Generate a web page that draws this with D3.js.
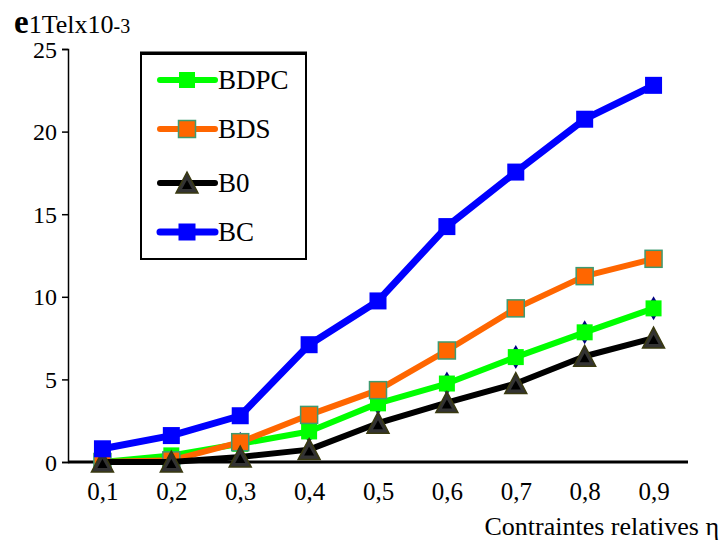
<!DOCTYPE html>
<html>
<head>
<meta charset="utf-8">
<script src="https://cdn.jsdelivr.net/npm/d3@7"></script>
<style>
  html, body { margin: 0; padding: 0; background: #fff; }
  svg { display: block; }
  text { font-family: "Liberation Serif", "Times New Roman", serif; fill: #000; }
</style>
</head>
<body>
<svg id="chart" width="728" height="541"></svg>
<script>
// Relative stress levels (x categories)
const categories = ["0,1", "0,2", "0,3", "0,4", "0,5", "0,6", "0,7", "0,8", "0,9"];
const yTicks = [0, 5, 10, 15, 20, 25];

// Strain e1Tel (x10^-3) per beam type
const seriesNames = ["BDPC", "BDS", "B0", "BC"];
const valuesBDPC = [0.0, 0.4, 1.1, 1.85, 3.55, 4.75, 6.35, 7.85, 9.3];
const valuesBDS  = [0.0, 0.1, 1.2, 2.85, 4.35, 6.75, 9.3, 11.25, 12.3];
const valuesB0   = [0.0, 0.0, 0.3, 0.75, 2.35, 3.6, 4.75, 6.4, 7.5];
const valuesBC   = [0.8, 1.6, 2.8, 7.1, 9.75, 14.25, 17.55, 20.75, 22.8];

const svg = d3.select("#chart");
const plotLeft = 68, plotRight = 688, plotTop = 49, plotBottom = 462;

const x = d3.scalePoint().domain(categories).range([plotLeft, plotRight]).padding(0.5);
const y = d3.scaleLinear().domain([0, 25]).range([plotBottom, plotTop]);

// Y axis
const yAxis = svg.append("g").attr("transform", `translate(${plotLeft},0)`)
  .call(d3.axisLeft(y).tickValues(yTicks).tickSize(6).tickPadding(5));
yAxis.attr("font-family", null);
yAxis.select(".domain").attr("stroke", "#000").attr("stroke-width", 1.5);
yAxis.selectAll(".tick line").attr("stroke", "#000").attr("stroke-width", 1.5);
yAxis.selectAll(".tick text")
  .attr("font-size", 24).attr("fill", "#000")
  .attr("dy", "0.34em");

// X axis (no tick marks, thick base line)
const xAxis = svg.append("g").attr("transform", `translate(0,${plotBottom})`)
  .call(d3.axisBottom(x).tickSize(0).tickPadding(20));
xAxis.attr("font-family", null);
xAxis.select(".domain").remove();
xAxis.selectAll(".tick text")
  .attr("font-size", 25).attr("fill", "#000")
  .attr("dy", "0.71em");
svg.append("line")
  .attr("x1", plotLeft).attr("x2", plotRight).attr("y1", plotBottom).attr("y2", plotBottom)
  .attr("stroke", "#000").attr("stroke-width", 3);

// Y axis title: e1Tel x10^-3
const yTitle = svg.append("text").attr("x", 14).attr("y", 33);
yTitle.append("tspan").attr("font-size", 33).attr("font-weight", "bold").text("e");
yTitle.append("tspan").attr("font-size", 26).text("1Telx10");
yTitle.append("tspan").attr("font-size", 20).text("-3");

// X axis title
svg.append("text").attr("x", 719).attr("y", 535).attr("text-anchor", "end")
  .attr("font-size", 26).text("Contraintes relatives η");

const line = d3.line().x((d, i) => x(categories[i])).y(d => y(d));

const styles = {
  BDPC: { color: "#00ff00", width: 6, values: valuesBDPC },
  BDS:  { color: "#ff6600", width: 6, values: valuesBDS },
  B0:   { color: "#000000", width: 6, values: valuesB0 },
  BC:   { color: "#0000ff", width: 7, values: valuesBC }
};

function drawMarker(g, name, cx, cy) {
  if (name === "B0") {
    g.append("path")
      .attr("d", `M${cx},${cy - 11} L${cx + 11},${cy + 10} L${cx - 11},${cy + 10} Z`)
      .attr("fill", "#333333").attr("stroke", "#3a3a10").attr("stroke-width", 1.5);
    g.append("path")
      .attr("d", `M${cx},${cy - 3} L${cx + 5},${cy + 6} L${cx - 5},${cy + 6} Z`)
      .attr("fill", "#000");
  } else if (name === "BDS") {
    g.append("rect").attr("x", cx - 8.5).attr("y", cy - 8.5).attr("width", 17).attr("height", 17)
      .attr("fill", "#ff6600").attr("stroke", "#3f9a70").attr("stroke-width", 1.5);
  } else if (name === "BDPC") {
    g.append("rect").attr("x", cx - 8).attr("y", cy - 8).attr("width", 16).attr("height", 16)
      .attr("fill", "#00ff00");
  } else {
    g.append("rect").attr("x", cx - 8.5).attr("y", cy - 8.5).attr("width", 17).attr("height", 17)
      .attr("fill", "#0000ff");
  }
}

// Navy diamonds peeking out beneath the BDPC markers
const under = svg.append("g");
valuesBDPC.forEach((v, i) => {
  if (i < 2) return;
  const cx = x(categories[i]), cy = y(v);
  under.append("path")
    .attr("d", `M${cx},${cy - 12} L${cx + 7},${cy} L${cx},${cy + 12} L${cx - 7},${cy} Z`)
    .attr("fill", "#000080");
});

// Series lines and markers
seriesNames.forEach(name => {
  const s = styles[name];
  const g = svg.append("g");
  g.append("path").datum(s.values)
    .attr("d", line).attr("fill", "none")
    .attr("stroke", s.color).attr("stroke-width", s.width)
    .attr("stroke-linejoin", "round");
  s.values.forEach((v, i) => drawMarker(g, name, x(categories[i]), y(v)));
});

// Legend
const lg = svg.append("g");
lg.append("rect").attr("x", 141).attr("y", 54).attr("width", 165).attr("height", 205)
  .attr("fill", "#fff").attr("stroke", "#000").attr("stroke-width", 2);
lg.append("line").attr("x1", 140).attr("x2", 307).attr("y1", 53).attr("y2", 53)
  .attr("stroke", "#000").attr("stroke-width", 3);
const legendRows = [80, 129, 183, 232];
seriesNames.forEach((name, i) => {
  const s = styles[name];
  const ly = legendRows[i];
  lg.append("line").attr("x1", 160).attr("x2", 215).attr("y1", ly).attr("y2", ly)
    .attr("stroke", s.color).attr("stroke-width", s.width).attr("stroke-linecap", "round");
  drawMarker(lg, name, 187, ly);
  lg.append("text").attr("x", 218).attr("y", ly + 9).attr("font-size", 27).text(name);
});
</script>
</body>
</html>
